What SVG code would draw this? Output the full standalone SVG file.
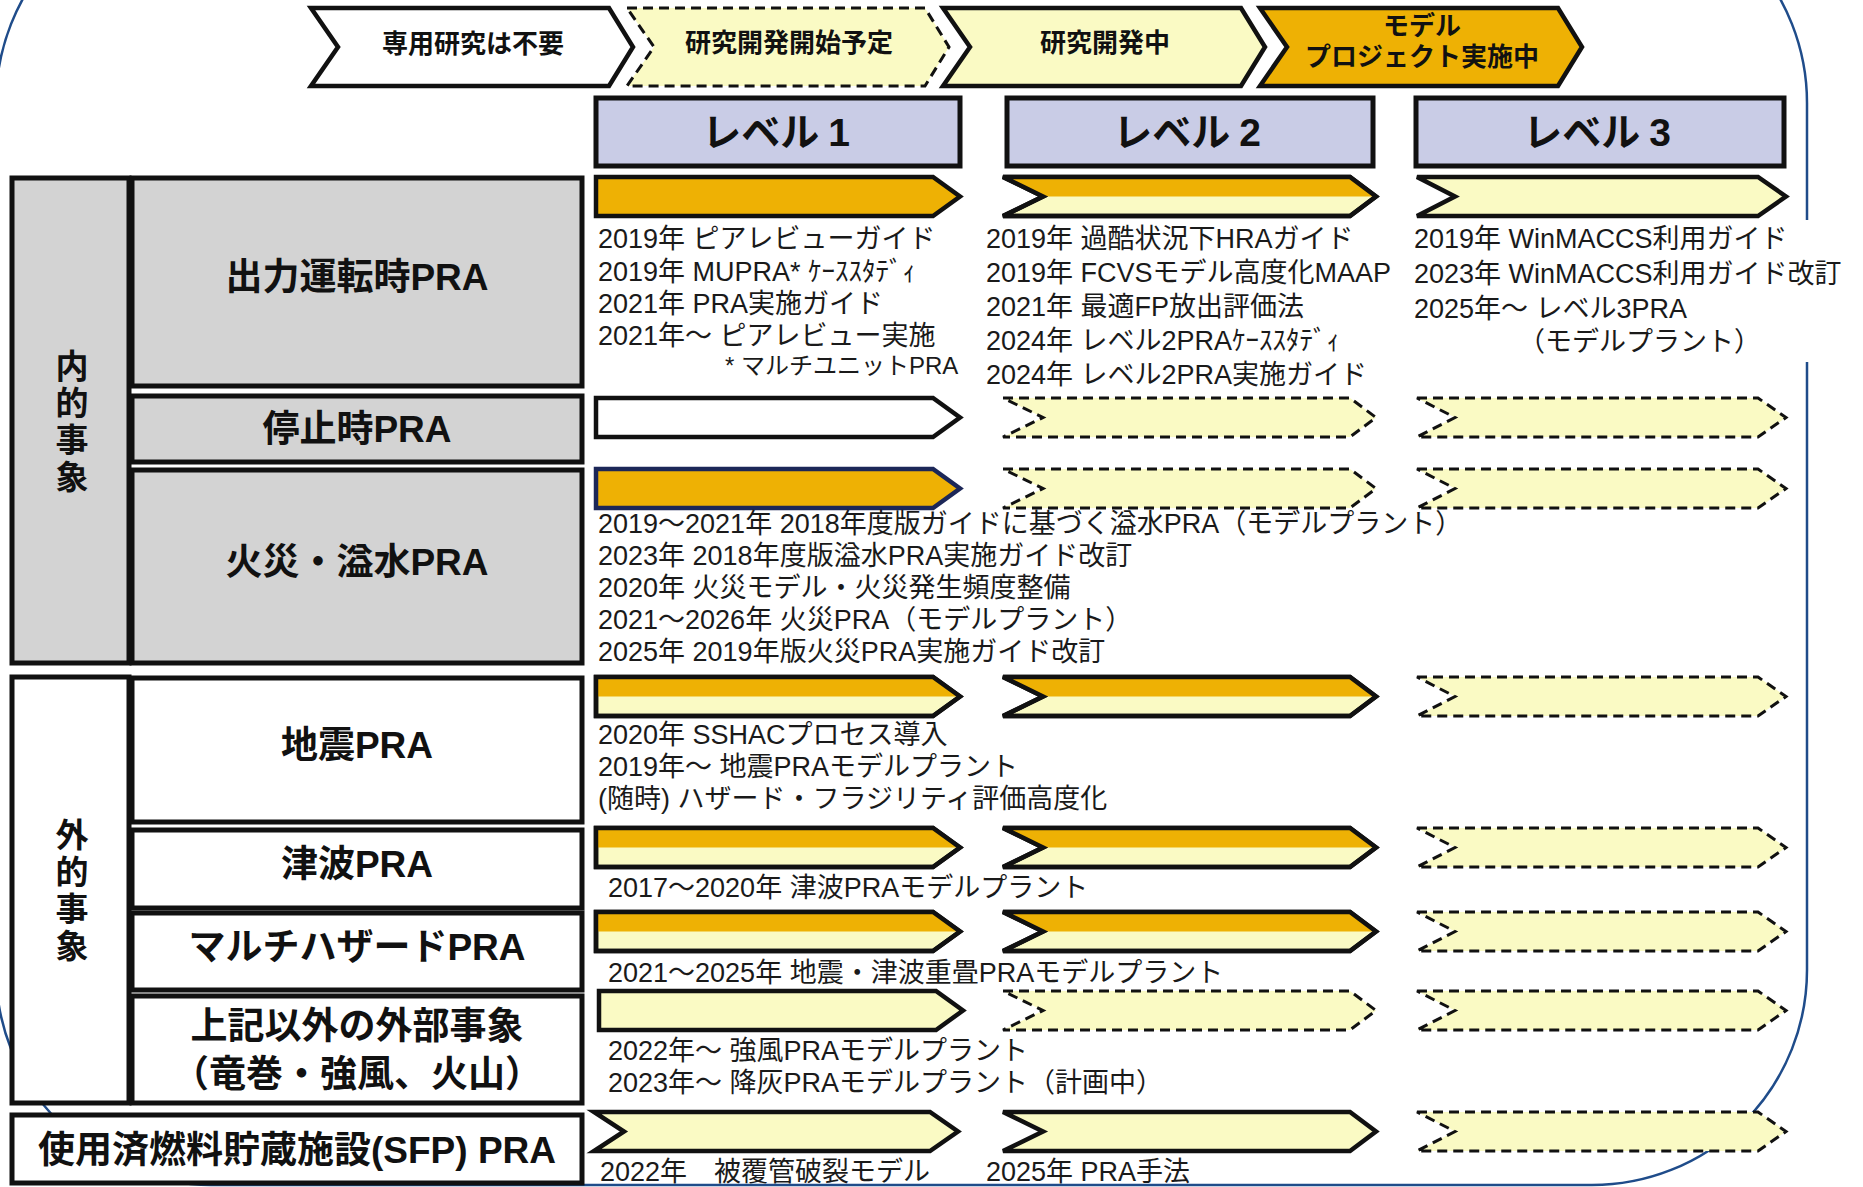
<svg xmlns="http://www.w3.org/2000/svg" width="1863" height="1187" viewBox="0 0 1863 1187">
<defs>
<style>
 text { font-family: "Liberation Sans", "Noto Sans CJK JP", sans-serif; fill:#1a1a1a; }
 .note { font-size:27px; }
 .small { font-size:24px; }
 .cat { font-size:37px; font-weight:700; text-anchor:middle; fill:#111; }
 .sfpt { font-size:37px; }
 .vert { font-size:33px; font-weight:700; text-anchor:middle; fill:#111; }
 .lvl { font-size:39px; font-weight:700; text-anchor:middle; fill:#111; }
 .leg { font-size:26px; font-weight:700; text-anchor:middle; fill:#111; }
 .box { stroke:#111; stroke-width:5; }
 .gray { fill:#D3D3D3; }
 .wbox { fill:#ffffff; }
 .lav { fill:#C9CCE6; }
 .or { fill:#EEB104; }
 .ye { fill:#FAFAC4; }
 .wh { fill:#ffffff; }
 .s { stroke:#111; stroke-width:4.5; stroke-linejoin:miter; }
 .sn { stroke:#1c2758; stroke-width:4.5; stroke-linejoin:miter; }
 .d { stroke:#111; stroke-width:3; stroke-dasharray:10 6; }
 .o { fill:none; stroke:#111; stroke-width:4.5; stroke-linejoin:miter; }
 .top { stroke:none; }
</style>
<path id="cf" d="M0,0 H337 L364,19.5 L337,39 H0 Z"/>
<path id="cft" d="M0,0 H337 L364,19.5 H0 Z"/>
<path id="cs" d="M0,0 H336 L364,19.5 L336,39 H0 L30,19.5 Z"/>
<path id="c2" d="M0,0 H347 L373,19.5 L347,39 H0 L40,19.5 Z"/>
<path id="c2t" d="M0,0 H347 L373,19.5 H40 Z"/>
<path id="c3" d="M0,0 H341 L369,19.5 L341,39 H0 L38,19.5 Z"/>
<path id="lg" d="M0,0 H298 L322,39 L298,78 H0 L27,39 Z"/>
</defs>
<rect width="1863" height="1187" fill="#ffffff"/>
<rect id="frame" x="-4" y="-112" width="1811" height="1297" rx="215" ry="215" fill="none" stroke="#1F4C8A" stroke-width="2.5"/>

<g id="legend">
 <g id="legend-none"><use href="#lg" x="311" y="8" class="wh s"/><text class="leg" x="473" y="53">専用研究は不要</text></g>
 <g id="legend-planned"><use href="#lg" x="627" y="8" class="ye d"/><text class="leg" x="789" y="52">研究開発開始予定</text></g>
 <g id="legend-rd"><use href="#lg" x="943" y="8" class="ye s"/><text class="leg" x="1105" y="52">研究開発中</text></g>
 <g id="legend-model"><use href="#lg" x="1260" y="8" class="or s"/><text class="leg" x="1422" y="35"><tspan x="1422" y="35">モデル</tspan><tspan x="1422" y="66">プロジェクト実施中</tspan></text></g>
</g>

<g id="level-headers">
 <g id="level1"><rect x="596" y="98" width="364" height="68" class="lav box"/><text class="lvl" x="776" y="146">レベル<tspan dx="9">1</tspan></text></g>
 <g id="level2"><rect x="1007" y="98" width="366" height="68" class="lav box"/><text class="lvl" x="1187" y="146">レベル<tspan dx="9">2</tspan></text></g>
 <g id="level3"><rect x="1416" y="98" width="368" height="68" class="lav box"/><text class="lvl" x="1597" y="146">レベル<tspan dx="9">3</tspan></text></g>
</g>

<g id="categories">
 <g id="internal"><rect x="12" y="178" width="117" height="485" class="gray box"/>
  <text class="vert"><tspan x="72" y="378">内</tspan><tspan x="72" y="415">的</tspan><tspan x="72" y="452">事</tspan><tspan x="72" y="489">象</tspan></text></g>
 <g id="power"><rect x="132" y="178" width="450" height="208" class="gray box"/><text class="cat" x="357" y="290">出力運転時PRA</text></g>
 <g id="shutdown"><rect x="132" y="396" width="450" height="66" class="gray box"/><text class="cat" x="357" y="442">停止時PRA</text></g>
 <g id="fire"><rect x="132" y="470" width="450" height="193" class="gray box"/><text class="cat" x="357" y="575">火災・溢水PRA</text></g>
 <g id="external"><rect x="12" y="677" width="117" height="426" class="wbox box"/>
  <text class="vert"><tspan x="72" y="847">外</tspan><tspan x="72" y="884">的</tspan><tspan x="72" y="921">事</tspan><tspan x="72" y="958">象</tspan></text></g>
 <g id="seismic"><rect x="132" y="678" width="450" height="144" class="wbox box"/><text class="cat" x="357" y="758">地震PRA</text></g>
 <g id="tsunami"><rect x="132" y="830" width="450" height="78" class="wbox box"/><text class="cat" x="357" y="877">津波PRA</text></g>
 <g id="multi"><rect x="132" y="913" width="450" height="77" class="wbox box"/><text class="cat" x="357" y="960">マルチハザードPRA</text></g>
 <g id="other"><rect x="132" y="996" width="450" height="107" class="wbox box"/><text class="cat"><tspan x="357" y="1039">上記以外の外部事象</tspan><tspan x="357" y="1087">（竜巻・強風、火山）</tspan></text></g>
 <g id="sfp"><rect x="12" y="1115" width="570" height="68" class="wbox box"/><text class="cat sfpt" x="297" y="1163">使用済燃料貯蔵施設(SFP) PRA</text></g>
</g>

<g id="chevrons">
 <g id="row-power">
  <use href="#cf" x="596" y="177" class="or s"/>
  <use href="#c2" x="1003" y="177" class="ye s"/><use href="#c2t" x="1003" y="177" class="or top"/><use href="#c2" x="1003" y="177" class="o"/>
  <use href="#c3" x="1417" y="177" class="ye s"/>
 </g>
 <g id="row-shutdown">
  <use href="#cf" x="596" y="398" class="wh s"/>
  <use href="#c2" x="1003" y="398" class="ye d"/>
  <use href="#c3" x="1417" y="398" class="ye d"/>
 </g>
 <g id="row-fire">
  <use href="#cf" x="596" y="469" class="or sn"/>
  <use href="#c2" x="1003" y="469" class="ye d"/>
  <use href="#c3" x="1417" y="469" class="ye d"/>
 </g>
 <g id="row-seismic">
  <use href="#cf" x="596" y="677" class="ye s"/><use href="#cft" x="596" y="677" class="or top"/><use href="#cf" x="596" y="677" class="o"/>
  <use href="#c2" x="1003" y="677" class="ye s"/><use href="#c2t" x="1003" y="677" class="or top"/><use href="#c2" x="1003" y="677" class="o"/>
  <use href="#c3" x="1417" y="677" class="ye d"/>
 </g>
 <g id="row-tsunami">
  <use href="#cf" x="596" y="828" class="ye s"/><use href="#cft" x="596" y="828" class="or top"/><use href="#cf" x="596" y="828" class="o"/>
  <use href="#c2" x="1003" y="828" class="ye s"/><use href="#c2t" x="1003" y="828" class="or top"/><use href="#c2" x="1003" y="828" class="o"/>
  <use href="#c3" x="1417" y="828" class="ye d"/>
 </g>
 <g id="row-multi">
  <use href="#cf" x="596" y="912" class="ye s"/><use href="#cft" x="596" y="912" class="or top"/><use href="#cf" x="596" y="912" class="o"/>
  <use href="#c2" x="1003" y="912" class="ye s"/><use href="#c2t" x="1003" y="912" class="or top"/><use href="#c2" x="1003" y="912" class="o"/>
  <use href="#c3" x="1417" y="912" class="ye d"/>
 </g>
 <g id="row-other">
  <use href="#cf" x="599" y="991" class="ye s"/>
  <use href="#c2" x="1003" y="991" class="ye d"/>
  <use href="#c3" x="1417" y="991" class="ye d"/>
 </g>
 <g id="row-sfp">
  <use href="#cs" x="594" y="1112" class="ye s"/>
  <use href="#c2" x="1003" y="1112" class="ye s"/>
  <use href="#c3" x="1417" y="1112" class="ye d"/>
 </g>
</g>

<g id="notes">
 <g id="notes-power-l1">
  <text class="note">
   <tspan x="598" y="248">2019年 ピアレビューガイド</tspan>
   <tspan x="598" y="281">2019年 MUPRA* ｹｰｽｽﾀﾃﾞｨ</tspan>
   <tspan x="598" y="313">2021年 PRA実施ガイド</tspan>
   <tspan x="598" y="345">2021年～ ピアレビュー実施</tspan>
   <tspan class="small" x="725" y="374">* マルチユニットPRA</tspan>
  </text>
 </g>
 <g id="notes-power-l2">
  <text class="note">
   <tspan x="986" y="248">2019年 過酷状況下HRAガイド</tspan>
   <tspan x="986" y="282">2019年 FCVSモデル高度化MAAP</tspan>
   <tspan x="986" y="316">2021年 最適FP放出評価法</tspan>
   <tspan x="986" y="350">2024年 レベル2PRAｹｰｽｽﾀﾃﾞｨ</tspan>
   <tspan x="986" y="384">2024年 レベル2PRA実施ガイド</tspan>
  </text>
 </g>
 <g id="notes-power-l3">
  <rect x="1408" y="220" width="445" height="142" fill="#ffffff"/>
  <text class="note">
   <tspan x="1414" y="248">2019年 WinMACCS利用ガイド</tspan>
   <tspan x="1414" y="283">2023年 WinMACCS利用ガイド改訂</tspan>
   <tspan x="1414" y="318">2025年～ レベル3PRA</tspan>
   <tspan x="1518" y="351">（モデルプラント）</tspan>
  </text>
 </g>
 <g id="notes-fire">
  <text class="note">
   <tspan x="598" y="533">2019～2021年 2018年度版ガイドに基づく溢水PRA（モデルプラント）</tspan>
   <tspan x="598" y="565">2023年 2018年度版溢水PRA実施ガイド改訂</tspan>
   <tspan x="598" y="597">2020年 火災モデル・火災発生頻度整備</tspan>
   <tspan x="598" y="629">2021～2026年 火災PRA（モデルプラント）</tspan>
   <tspan x="598" y="661">2025年 2019年版火災PRA実施ガイド改訂</tspan>
  </text>
 </g>
 <g id="notes-seismic">
  <text class="note">
   <tspan x="598" y="744">2020年 SSHACプロセス導入</tspan>
   <tspan x="598" y="776">2019年～ 地震PRAモデルプラント</tspan>
   <tspan x="598" y="808">(随時) ハザード・フラジリティ評価高度化</tspan>
  </text>
 </g>
 <g id="notes-tsunami"><text class="note" x="608" y="897">2017～2020年 津波PRAモデルプラント</text></g>
 <g id="notes-multi"><text class="note" x="608" y="982">2021～2025年 地震・津波重畳PRAモデルプラント</text></g>
 <g id="notes-other">
  <text class="note">
   <tspan x="608" y="1060">2022年～ 強風PRAモデルプラント</tspan>
   <tspan x="608" y="1092">2023年～ 降灰PRAモデルプラント（計画中）</tspan>
  </text>
 </g>
 <g id="notes-sfp">
  <text class="note" x="600" y="1181">2022年　被覆管破裂モデル</text>
  <text class="note" x="986" y="1181">2025年 PRA手法</text>
 </g>
</g>
</svg>
